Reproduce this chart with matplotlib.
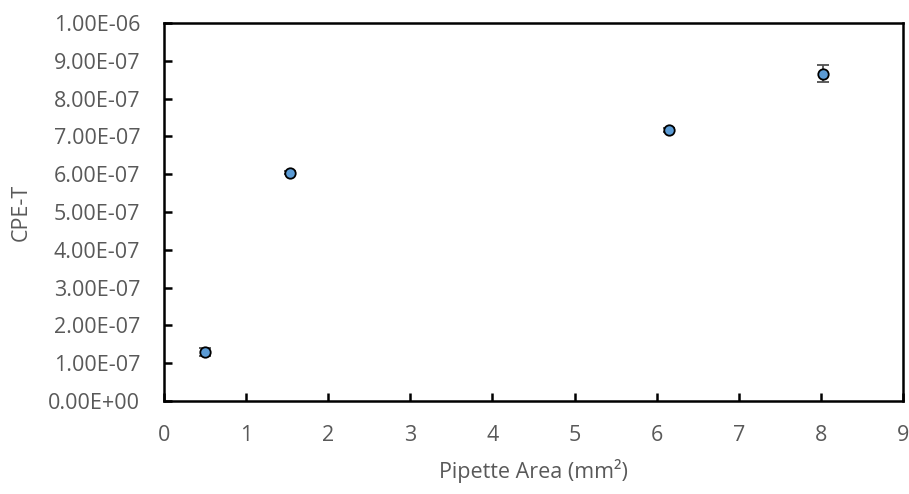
import matplotlib
matplotlib.use('Agg')
import matplotlib.pyplot as plt
from matplotlib.ticker import FuncFormatter

# Данные
pipette_area = [0.50, 1.54, 6.15, 8.03]
cpe_t = [1.30e-7, 6.04e-7, 7.17e-7, 8.66e-7]
cpe_t_err = [0.10e-7, 0.04e-7, 0.05e-7, 0.22e-7]

plt.rcParams['font.family'] = ['Open Sans', 'DejaVu Sans']

fig = plt.figure(figsize=(9.09, 4.94), dpi=100)
ax = fig.add_axes([0.1804, 0.1883, 0.813, 0.765])

ax.errorbar(pipette_area, cpe_t, yerr=cpe_t_err, fmt='o', color='#505050',
            ecolor='#505050', elinewidth=1.3, capsize=4.5, capthick=1.3,
            markerfacecolor='#5B9BD5', markeredgecolor='black',
            markeredgewidth=1.3, markersize=7.5, zorder=3)

ax.set_xlim(0, 9)
ax.set_ylim(0, 1e-6)
ax.set_xticks(range(0, 10))
ax.set_yticks([i * 1e-7 for i in range(11)])
ax.yaxis.set_major_formatter(FuncFormatter(
    lambda v, p: f"{v:.2E}" if v != 0 else "0.00E+00"))

for s in ax.spines.values():
    s.set_linewidth(1.8)
    s.set_color('black')

ax.tick_params(direction='in', length=6, width=1.8, color='black',
               labelsize=15.5, labelcolor='#595959')
ax.tick_params(axis='x', pad=17)
ax.tick_params(axis='y', pad=17)

ax.set_xlabel('Pipette Area (mm²)', fontsize=15.5, color='#595959', labelpad=10)
ax.set_ylabel('CPE-T', fontsize=15.5, color='#595959', labelpad=12)

fig.savefig('out.png', dpi=100)
